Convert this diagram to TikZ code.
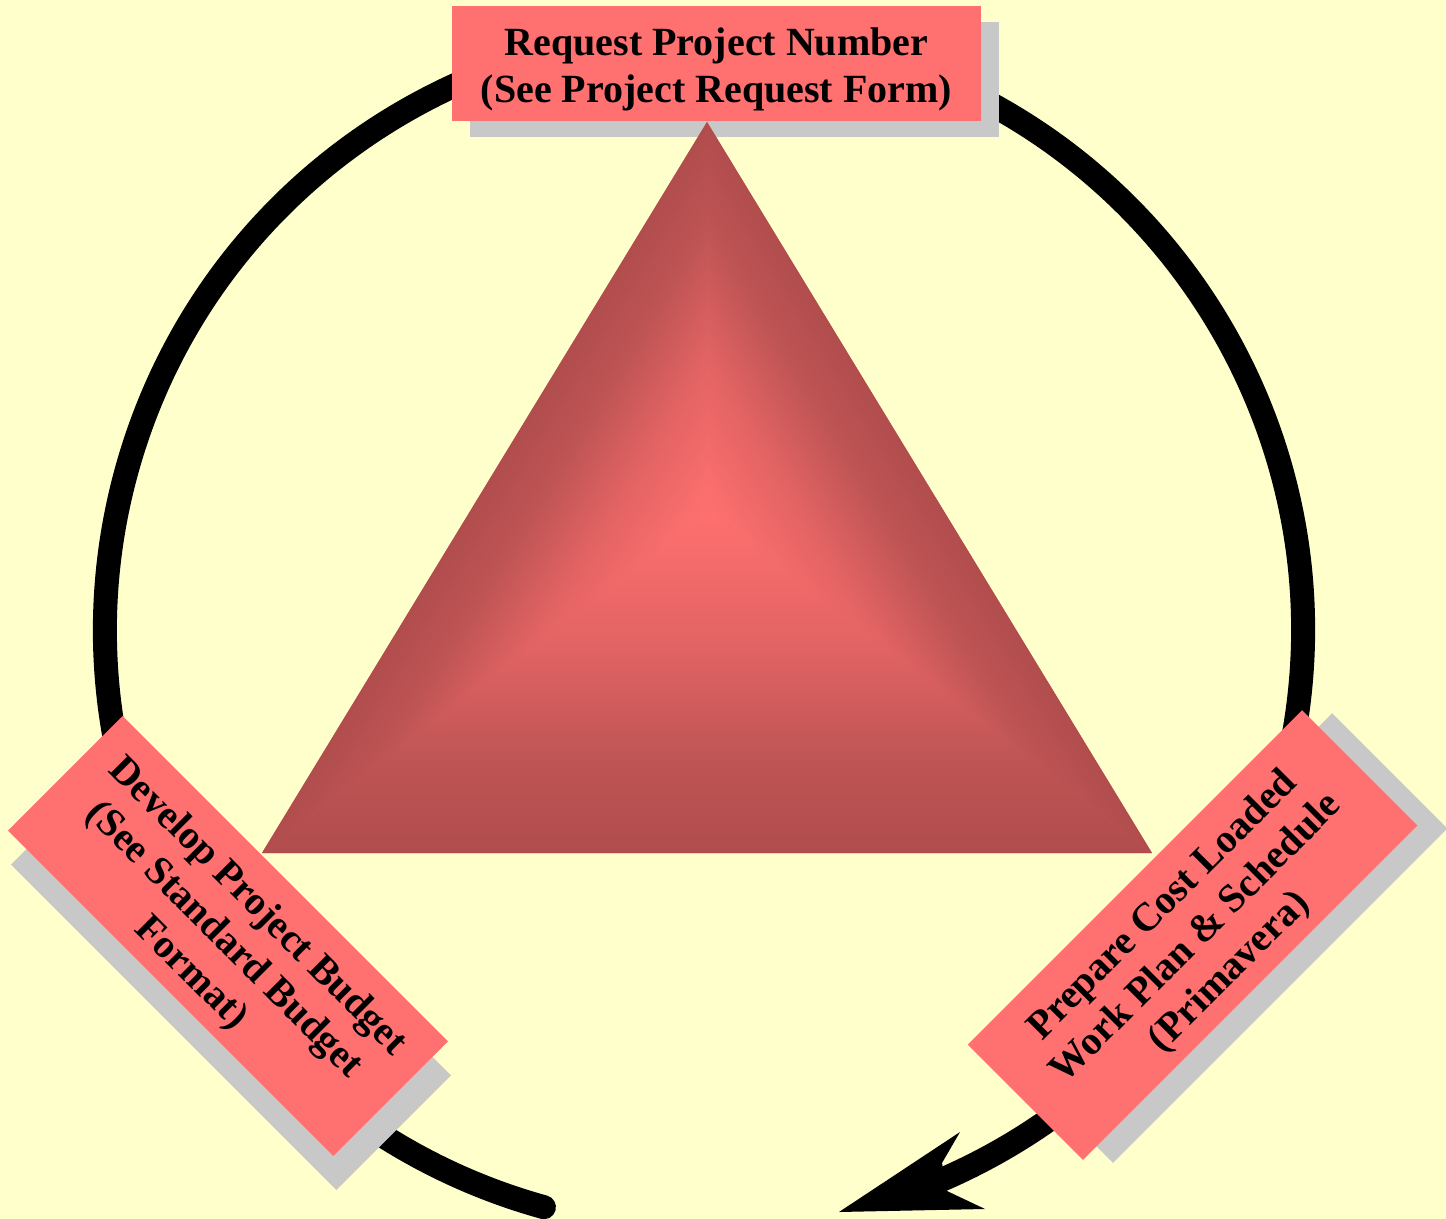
\documentclass[tikz,border=0pt]{standalone}
\usepackage{fontspec}
\setmainfont{Liberation Serif}
\usetikzlibrary{calc}
\definecolor{bg}{HTML}{FFFFCC}
\definecolor{boxred}{HTML}{FF7070}
\definecolor{shadowgray}{HTML}{C8C8C8}
\definecolor{tridark}{RGB}{177,77,77}
\definecolor{trimid}{RGB}{215,95,95}
\definecolor{trishadeA}{RGB}{190,84,84}
\definecolor{trishadeB}{RGB}{226,99,99}
\definecolor{trilight}{RGB}{255,112,112}
\pgfdeclareverticalshading{edgefade}{100bp}{color(0bp)=(trilight); color(25bp)=(trilight); color(45bp)=(trishadeB); color(62bp)=(trishadeA); color(75bp)=(tridark); color(100bp)=(tridark)}
\begin{document}
\begin{tikzpicture}[x=0.5pt,y=0.5pt,
  box/.style={fill=boxred, draw=none, inner sep=0pt},
  boxtext/.style={align=center, inner sep=0pt,
    font=\bfseries\fontsize{20pt}{23.5pt}\selectfont},
  shadowbox/.style={fill=shadowgray, draw=none, inner sep=0pt},
  topsize/.style={minimum width=264.5pt, minimum height=57.5pt},
  leftsize/.style={minimum width=230pt, minimum height=81pt, rotate=-45},
  rightsize/.style={minimum width=236.5pt, minimum height=81.5pt, rotate=45},
  cycleline/.style={line width=12pt, line cap=round},
  edgeshade/.style={shading=edgefade}]

\fill[bg] (0,0) rectangle (1446,-1219);
\useasboundingbox (0,0) rectangle (1446,-1219);

% cycle arc
\coordinate (O) at (704,-630);
\draw[cycleline] ($(O)+(254.5:299.5pt)$) arc[start angle=254.5, end angle=-68, radius=299.5pt];
% arrow head
\coordinate (tip) at (839,-1212);
\coordinate (barbA) at (960,-1132);
\coordinate (notchA) at (942,-1163);
\coordinate (notchB) at (947,-1191);
\coordinate (barbB) at (985,-1209);
\fill (tip) -- (barbA) -- (notchA) -- (notchB) -- (barbB) -- cycle;

% top shadow (below the triangle apex)
\node[shadowbox, topsize] (topsh) at (734.5,-79.5) {};

% triangle
\coordinate (A) at (707,-122);
\coordinate (B) at (262,-853);
\coordinate (D) at (1152,-853);
\coordinate (C) at (707,-510);
\fill[trimid] (A) -- (B) -- (D) -- cycle;
\begin{scope}
  \clip (B) -- (D) -- (C) -- cycle;
  \shade[edgeshade, shading angle=180] (262,-853) rectangle (1152,-510);
\end{scope}
\begin{scope}
  \clip (A) -- (B) -- (C) -- cycle;
  \begin{scope}[transform canvas={shift={(B)}, rotate=58.67}]
    \shade[edgeshade] (-20,-201.7) rectangle (880,0);
  \end{scope}
\end{scope}
\begin{scope}
  \clip (A) -- (D) -- (C) -- cycle;
  \begin{scope}[transform canvas={shift={(A)}, rotate=-58.67}]
    \shade[edgeshade] (-20,-201.7) rectangle (880,0);
  \end{scope}
\end{scope}

% boxes
\node[box, topsize] (top) at (716.5,-63.5) {};
\node[boxtext] (toptext) at ($(top.center)+(0,-6)$) {Request Project Number\\(See Project Request Form)};

\node[shadowbox, leftsize] (leftsh) at (231,-970) {};
\node[box, leftsize] (left) at (228,-936) {};
\node[boxtext, rotate=-45] (lefttext) at ($(left.center)+(-135:3pt)$) {Develop Project Budget\\(See Standard Budget\\Format)};

\node[shadowbox, rightsize] (rightsh) at (1222.5,-938) {};
\node[box, rightsize] (right) at (1192.5,-935) {};
\node[boxtext, rotate=45] (righttext) at ($(right.center)+(-45:3pt)$) {Prepare Cost Loaded\\Work Plan \& Schedule\\(Primavera)};
\end{tikzpicture}
\end{document}
